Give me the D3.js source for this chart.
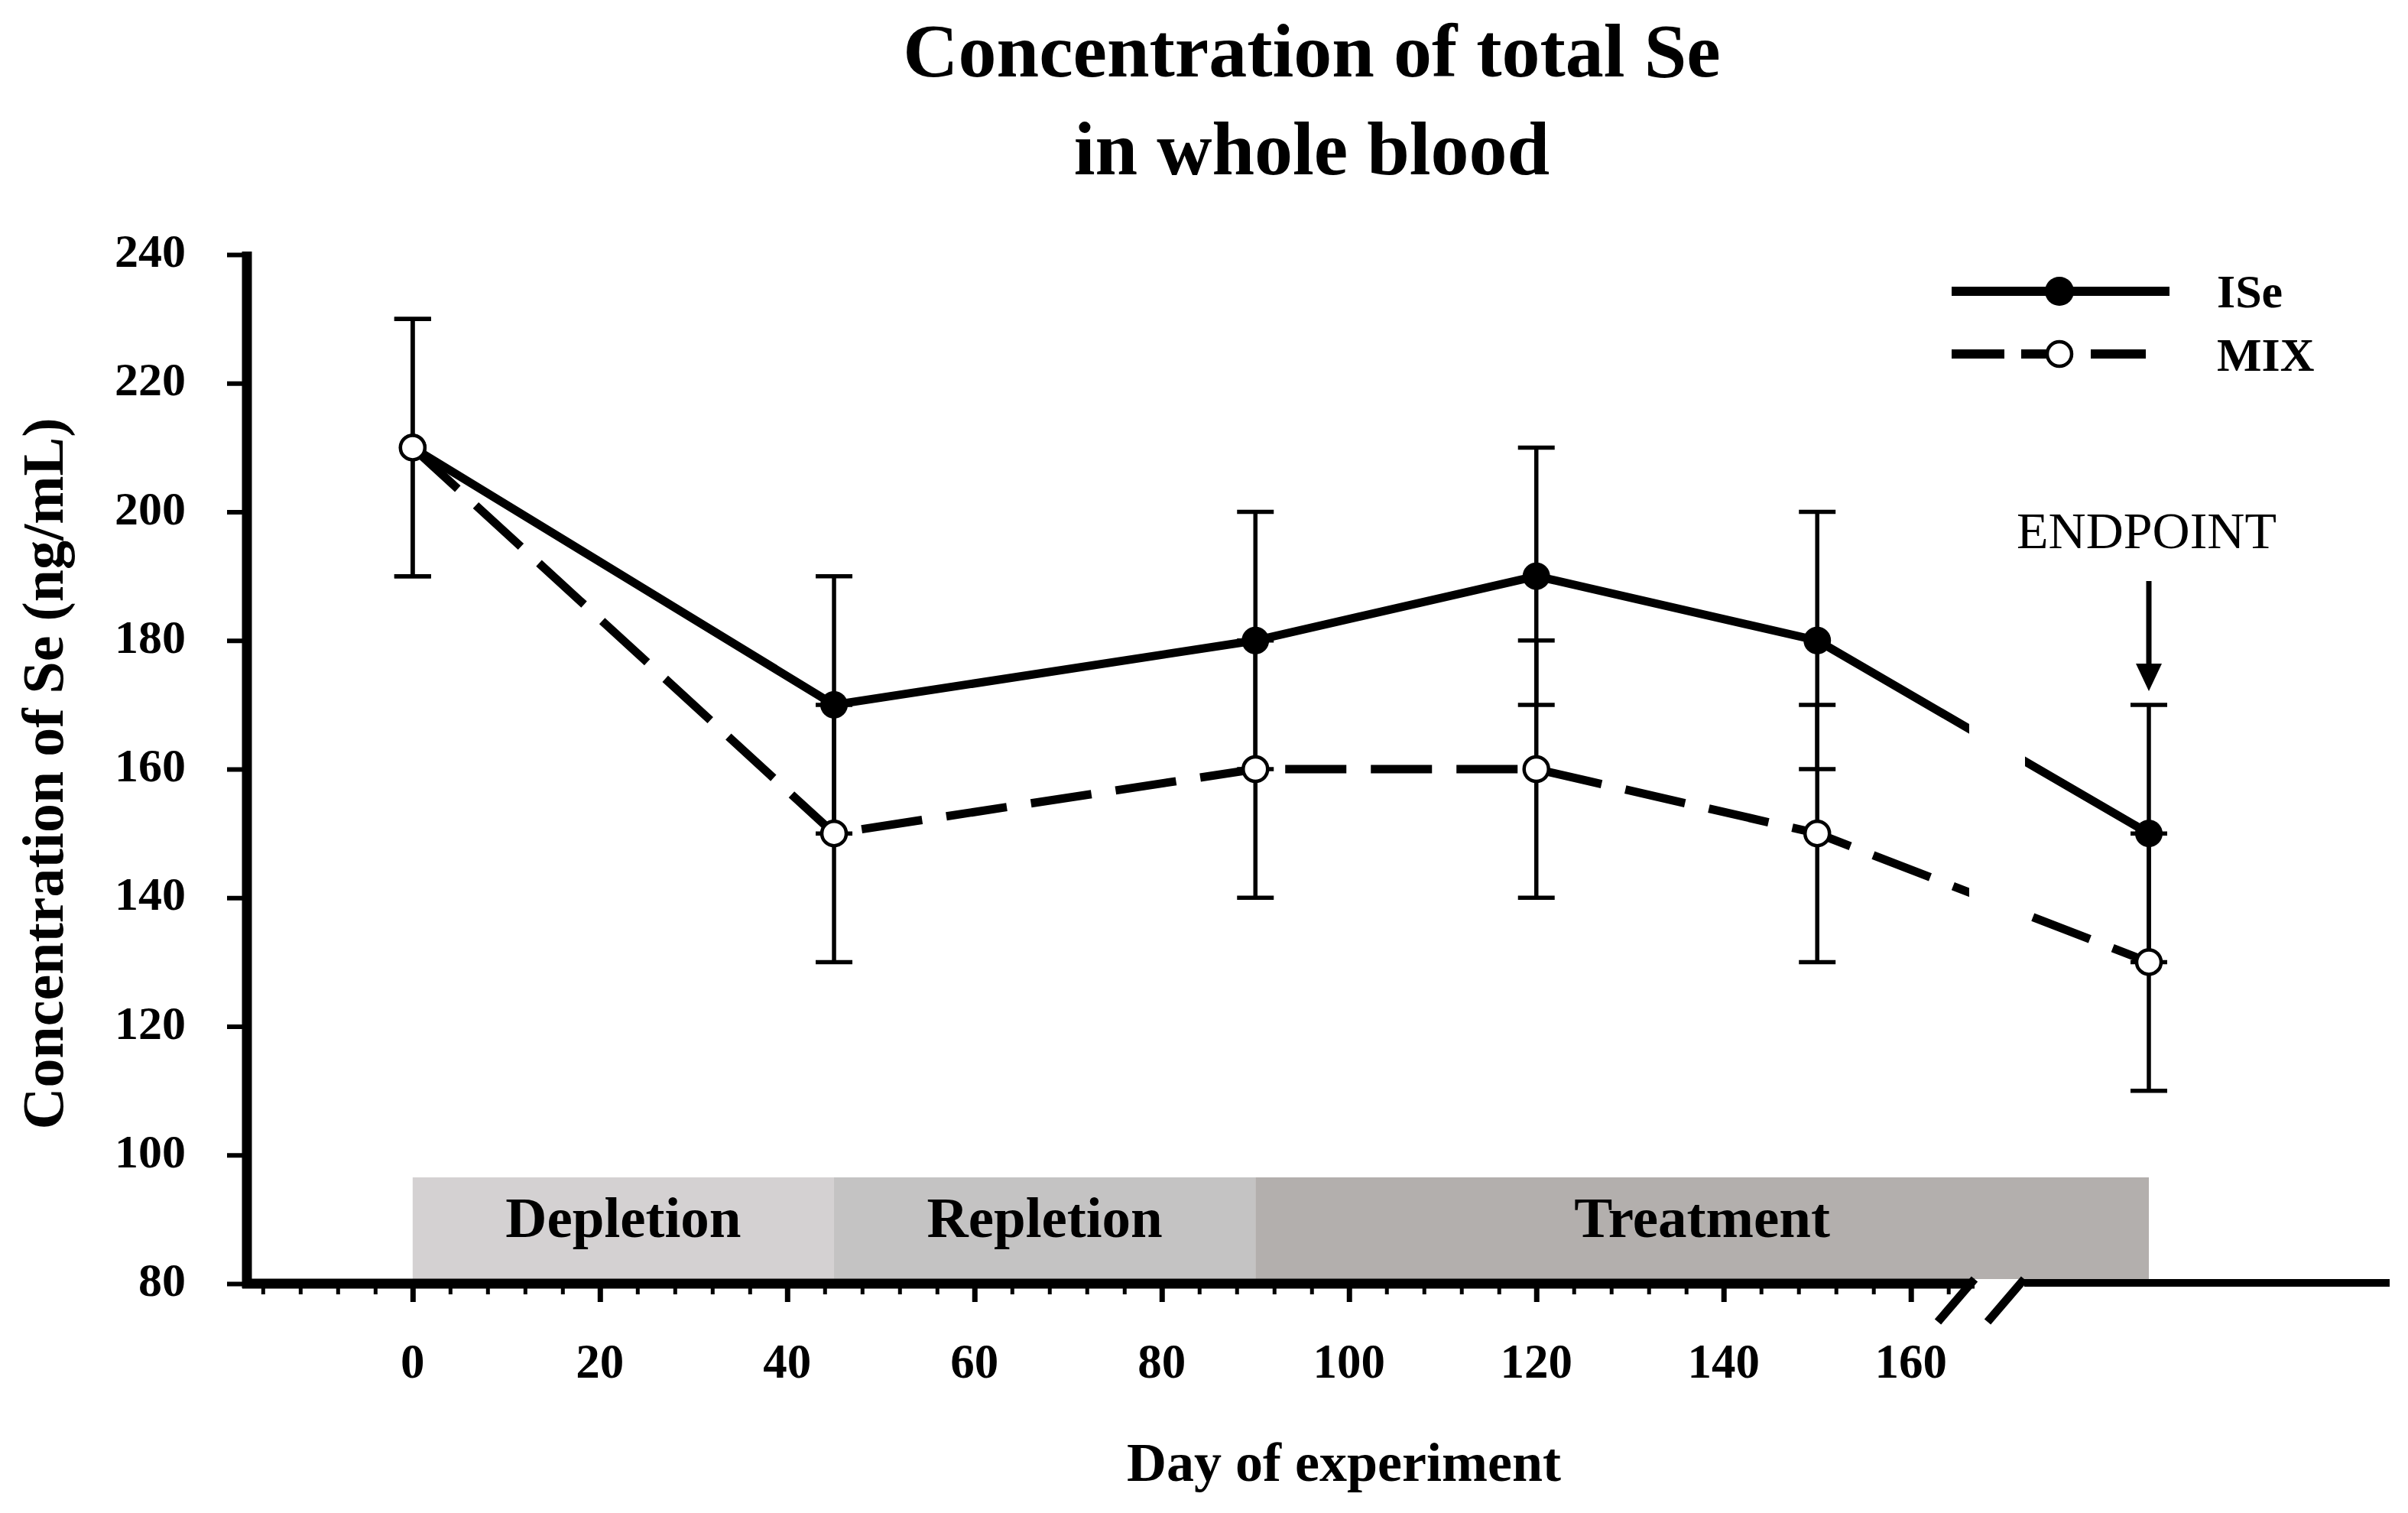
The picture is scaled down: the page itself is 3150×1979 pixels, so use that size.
<!DOCTYPE html>
<html>
<head>
<meta charset="utf-8">
<script src="https://cdn.jsdelivr.net/npm/d3@7"></script>
<style>
  html, body { margin: 0; padding: 0; background: #ffffff; }
  svg { display: block; }
  text { font-family: "Liberation Serif", "DejaVu Serif", serif; fill: #000; }
</style>
</head>
<body>
<svg id="chart" width="3150" height="1979"></svg>
<script>
// ---------------- DATA ----------------
// Day of experiment; the last point (ENDPOINT) sits after the axis break.
const days = [0, 45, 90, 120, 150, 180];
const iseMean = [210, 170, 180, 190, 180, 150];
const iseSD   = [20, 20, 20, 20, 20, 20];
const mixMean = [210, 150, 160, 160, 150, 130];
const mixSD   = [20, 20, 20, 20, 20, 20];
const seriesNames = ["ISe", "MIX"];

const yTickValues = [80, 100, 120, 140, 160, 180, 200, 220, 240];
const xTickValues = [0, 20, 40, 60, 80, 100, 120, 140, 160];
const xTickLabels = ["0", "20", "40", "60", "80", "100", "120", "140", "160"];

const phaseNames = ["Depletion", "Repletion", "Treatment"];
const phaseStart = [0, 45, 90];
const phaseEnd   = [45, 90, 180];
const phaseColors = ["#d4d1d2", "#c4c3c3", "#b3afad"];

const titleLines = ["Concentration of total Se", "in whole blood"];
const yTitle = "Concentration of Se (ng/mL)";
const xTitle = "Day of experiment";
const endpointLabel = "ENDPOINT";

// ---------------- LAYOUT ----------------
const svg = d3.select("#chart");
svg.append("rect").attr("width", 3150).attr("height", 1979).attr("fill", "#fff");

const breakA = 166.8, breakB = 171;   // axis break (in day units)
const xMin = -17.7, xMax = 205.7;
const x = d3.scaleLinear()
  .domain([xMin, breakA, breakB, 180, xMax])
  .range([323, 2583, 2648, 2811, 3126]);
const y = d3.scaleLinear().domain([80, 240]).range([1679, 333]);
const axisY = y(80);

// Title
svg.append("g").selectAll("text").data(titleLines).join("text")
  .attr("x", 1716).attr("y", (d, i) => 100 + i * 128)
  .attr("text-anchor", "middle")
  .attr("font-size", 100).attr("font-weight", "bold")
  .text(d => d);

// Phase bands
const bandTop = 1540;
const bands = svg.append("g");
bands.selectAll("rect").data(phaseNames).join("rect")
  .attr("x", (d, i) => x(phaseStart[i]))
  .attr("width", (d, i) => x(phaseEnd[i]) - x(phaseStart[i]))
  .attr("y", bandTop).attr("height", axisY - 6 - bandTop)
  .attr("fill", (d, i) => phaseColors[i]);
bands.selectAll("text").data(phaseNames).join("text")
  .attr("x", (d, i) => (x(phaseStart[i]) + x(phaseEnd[i])) / 2)
  .attr("y", 1618)
  .attr("text-anchor", "middle")
  .attr("font-size", 75).attr("font-weight", "bold")
  .text(d => d);

// Y axis
const yAxisG = svg.append("g").attr("transform", `translate(${x(xMin)},0)`)
  .call(d3.axisLeft(y).tickValues(yTickValues).tickSize(26).tickSizeOuter(0).tickFormat(""));
yAxisG.select(".domain").remove();
yAxisG.selectAll(".tick line").attr("stroke", "#000").attr("stroke-width", 6);
svg.append("line")
  .attr("x1", x(xMin)).attr("x2", x(xMin))
  .attr("y1", y(240) - 4).attr("y2", axisY + 6)
  .attr("stroke", "#000").attr("stroke-width", 13);
svg.append("g").selectAll("text").data(yTickValues).join("text")
  .attr("x", 243).attr("y", d => y(d) + 16)
  .attr("text-anchor", "end")
  .attr("font-size", 62).attr("font-weight", "bold")
  .text(d => d);

// X axis
const minorTicks = d3.range(-16, 165, 4).filter(v => v % 20 !== 0);
const xMinorG = svg.append("g").attr("transform", `translate(0,${axisY})`)
  .call(d3.axisBottom(x).tickValues(minorTicks).tickSize(14).tickSizeOuter(0).tickFormat(""));
xMinorG.select(".domain").remove();
xMinorG.selectAll(".tick line").attr("stroke", "#000").attr("stroke-width", 5);
const xMajorG = svg.append("g").attr("transform", `translate(0,${axisY})`)
  .call(d3.axisBottom(x).tickValues(xTickValues).tickSize(24).tickSizeOuter(0).tickFormat(""));
xMajorG.select(".domain").remove();
xMajorG.selectAll(".tick line").attr("stroke", "#000").attr("stroke-width", 7);
svg.append("g").selectAll("text").data(xTickValues).join("text")
  .attr("x", d => x(d)).attr("y", 1802)
  .attr("text-anchor", "middle")
  .attr("font-size", 63).attr("font-weight", "bold")
  .text((d, i) => xTickLabels[i]);
// main axis line (left of break)
svg.append("line")
  .attr("x1", x(xMin) - 6).attr("x2", x(breakA))
  .attr("y1", axisY).attr("y2", axisY)
  .attr("stroke", "#000").attr("stroke-width", 13);
// axis line right of break
svg.append("line")
  .attr("x1", x(breakB)).attr("x2", x(xMax))
  .attr("y1", axisY - 1).attr("y2", axisY - 1)
  .attr("stroke", "#000").attr("stroke-width", 10);
// break slashes
svg.append("g").selectAll("line").data([breakA, breakB]).join("line")
  .attr("x1", d => x(d)).attr("y1", axisY - 6)
  .attr("x2", d => x(d) - 48).attr("y2", axisY + 50)
  .attr("stroke", "#000").attr("stroke-width", 11);

// Axis titles
svg.append("text")
  .attr("transform", `translate(82,${1012}) rotate(-90)`)
  .attr("text-anchor", "middle")
  .attr("font-size", 76).attr("font-weight", "bold")
  .text(yTitle);
svg.append("text")
  .attr("x", 1758).attr("y", 1937)
  .attr("text-anchor", "middle")
  .attr("font-size", 72).attr("font-weight", "bold")
  .text(xTitle);

// Error bars
const series = [
  { name: seriesNames[0], mean: iseMean, sd: iseSD },
  { name: seriesNames[1], mean: mixMean, sd: mixSD }
];
const capW = 24;
const eb = svg.append("g").attr("stroke", "#000").attr("stroke-width", 5.5);
series.forEach(s => {
  const g = eb.append("g");
  g.selectAll("line.v").data(days).join("line").attr("class", "v")
    .attr("x1", (d) => x(d)).attr("x2", (d) => x(d))
    .attr("y1", (d, i) => y(s.mean[i] + s.sd[i])).attr("y2", (d, i) => y(s.mean[i] - s.sd[i]));
  g.selectAll("line.t").data(days).join("line").attr("class", "t")
    .attr("x1", d => x(d) - capW).attr("x2", d => x(d) + capW)
    .attr("y1", (d, i) => y(s.mean[i] + s.sd[i])).attr("y2", (d, i) => y(s.mean[i] + s.sd[i]));
  g.selectAll("line.b").data(days).join("line").attr("class", "b")
    .attr("x1", d => x(d) - capW).attr("x2", d => x(d) + capW)
    .attr("y1", (d, i) => y(s.mean[i] - s.sd[i])).attr("y2", (d, i) => y(s.mean[i] - s.sd[i]));
});

// Lines with a gap at the axis break
const defs = svg.append("defs");
const clip = defs.append("clipPath").attr("id", "breakclip");
clip.append("rect").attr("x", 0).attr("y", 0).attr("width", x(breakA) - 7).attr("height", 1979);
clip.append("rect").attr("x", x(breakB) + 1).attr("y", 0).attr("width", 3150).attr("height", 1979);

const lineGen = (vals) => d3.line().x((d, i) => x(days[i])).y((d, i) => y(vals[i]))(vals);
const lines = svg.append("g").attr("clip-path", "url(#breakclip)").attr("fill", "none");
lines.append("path").attr("d", lineGen(iseMean))
  .attr("stroke", "#000").attr("stroke-width", 11).attr("stroke-linejoin", "round");
lines.append("path").attr("d", lineGen(mixMean))
  .attr("stroke", "#000").attr("stroke-width", 11).attr("stroke-dasharray", "80,32");

// Markers
svg.append("g").selectAll("circle").data(days).join("circle")
  .attr("cx", d => x(d)).attr("cy", (d, i) => y(iseMean[i]))
  .attr("r", 18).attr("fill", "#000");
svg.append("g").selectAll("circle").data(days).join("circle")
  .attr("cx", d => x(d)).attr("cy", (d, i) => y(mixMean[i]))
  .attr("r", 16).attr("fill", "#fff").attr("stroke", "#000").attr("stroke-width", 4.5);

// ENDPOINT annotation
const ex = x(days[days.length - 1]);
svg.append("text").attr("x", ex - 3).attr("y", 717)
  .attr("text-anchor", "middle").attr("font-size", 68)
  .text(endpointLabel);
svg.append("line").attr("x1", ex).attr("x2", ex).attr("y1", 760).attr("y2", 872)
  .attr("stroke", "#000").attr("stroke-width", 7);
svg.append("path")
  .attr("d", `M${ex - 17},868 L${ex + 17},868 L${ex},904 Z`)
  .attr("fill", "#000");

// Legend
const lg = svg.append("g");
lg.append("line").attr("x1", 2553).attr("x2", 2838).attr("y1", 381).attr("y2", 381)
  .attr("stroke", "#000").attr("stroke-width", 12);
lg.append("circle").attr("cx", 2694).attr("cy", 381).attr("r", 19).attr("fill", "#000");
lg.append("line").attr("x1", 2553).attr("x2", 2807).attr("y1", 463).attr("y2", 463)
  .attr("stroke", "#000").attr("stroke-width", 12).attr("stroke-dasharray", "69,22,67,24,72");
lg.append("circle").attr("cx", 2694).attr("cy", 463).attr("r", 16)
  .attr("fill", "#fff").attr("stroke", "#000").attr("stroke-width", 4.5);
lg.selectAll("text").data(seriesNames).join("text")
  .attr("x", 2900).attr("y", (d, i) => 402 + i * 83)
  .attr("font-size", 62).attr("font-weight", "bold")
  .text(d => d);
</script>
</body>
</html>
